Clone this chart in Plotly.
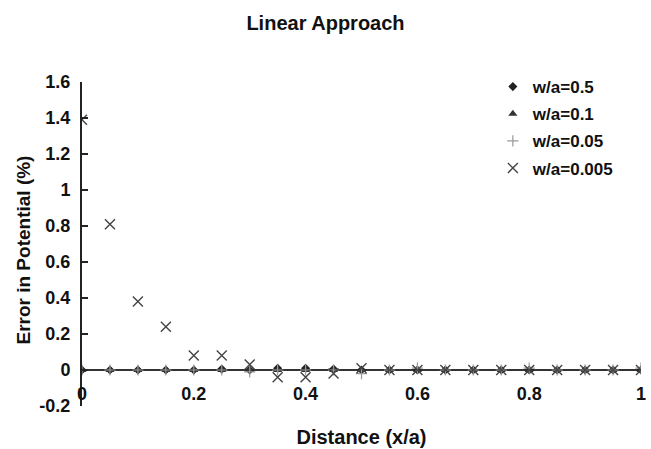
import plotly.graph_objects as go

x_vals = [0, 0.05, 0.1, 0.15, 0.2, 0.25, 0.3, 0.35, 0.4, 0.45, 0.5,
          0.55, 0.6, 0.65, 0.7, 0.75, 0.8, 0.85, 0.9, 0.95, 1.0]
wa_05 = [0, 0, 0, 0, 0, 0.005, 0, 0.01, 0.01, 0.005, 0,
         0, 0, 0, 0, 0, 0, 0, 0, 0, 0]
wa_01 = [0, 0, 0, 0, 0, 0, 0, 0, 0, 0, 0,
         0, 0, 0, 0, 0, 0, 0, 0, 0, 0]
wa_005 = [0, 0, 0, 0, 0, 0, -0.01, 0, 0, 0, -0.02,
          0, 0.01, 0, 0, 0, 0.01, 0, 0, 0, 0.01]
wa_0005 = [1.39, 0.81, 0.38, 0.24, 0.08, 0.08, 0.03, -0.04, -0.04, -0.02, 0.01,
           0, 0, 0, 0, 0, 0, 0, 0, 0, 0]

font = "Liberation Sans, Arial, sans-serif"

fig = go.Figure()
fig.add_trace(go.Scatter(x=x_vals, y=wa_05, mode="markers", name="<b>w/a=0.5</b>",
                         legendgroup="a",
                         marker=dict(symbol="diamond", size=7, color="#222222")))
fig.add_trace(go.Scatter(x=x_vals, y=wa_01, mode="markers", name="<b>w/a=0.1</b>",
                         legendgroup="b",
                         marker=dict(symbol="triangle-up", size=8, color="#333333")))
fig.add_trace(go.Scatter(x=x_vals, y=wa_005, mode="markers", name="<b>w/a=0.05</b>",
                         legendgroup="c",
                         marker=dict(symbol="cross-thin-open", size=8, color="#999999",
                                     line=dict(width=1.2, color="#999999"))))
fig.add_trace(go.Scatter(x=x_vals, y=wa_0005, mode="markers", name="<b>w/a=0.005</b>",
                         legendgroup="d",
                         marker=dict(symbol="x-thin-open", size=10, color="#444444",
                                     line=dict(width=1.4, color="#444444"))))

fig.update_layout(
    width=651, height=449,
    margin=dict(l=82, r=5, t=82, b=43),
    paper_bgcolor="white", plot_bgcolor="white",
    font=dict(family=font, color="#111111"),
    title=dict(text="<b>Linear Approach</b>", x=0.5, xanchor="center",
               y=1 - 23 / 449, yanchor="middle", yref="container",
               font=dict(size=20, family=font, color="#111111")),
    showlegend=True,
    legend=dict(x=0.735, y=1.04, xanchor="left", yanchor="top",
                bgcolor="rgba(0,0,0,0)", itemwidth=30,
                tracegroupgap=2,
                font=dict(size=17, family=font, color="#111111")),
    xaxis=dict(range=[0, 1], tickvals=[0, 0.2, 0.4, 0.6, 0.8, 1],
               ticktext=["<b>0</b>", "<b>0.2</b>", "<b>0.4</b>", "<b>0.6</b>", "<b>0.8</b>", "<b>1</b>"],
               showline=False, showgrid=False, zeroline=False, ticks="",
               anchor="free", position=0.077, ticklabeloverflow="allow",
               tickfont=dict(size=18, family=font, color="#111111"),
               title=dict(text="<b>Distance (x/a)</b>", standoff=26,
                          font=dict(size=20, family=font, color="#111111"))),
    yaxis=dict(range=[-0.2, 1.6], tickvals=[-0.2, 0, 0.2, 0.4, 0.6, 0.8, 1, 1.2, 1.4, 1.6],
               ticktext=["<b>-0.2</b>", "<b>0</b>", "<b>0.2</b>", "<b>0.4</b>", "<b>0.6</b>",
                         "<b>0.8</b>", "<b>1</b>", "<b>1.2</b>", "<b>1.4</b>", "<b>1.6</b>"],
               showline=True, linecolor="#222222", linewidth=2,
               ticks="inside", ticklen=6, tickwidth=2, tickcolor="#222222",
               ticklabelstandoff=6,
               showgrid=False, zeroline=True, zerolinecolor="#333333", zerolinewidth=2,
               tickfont=dict(size=18, family=font, color="#111111")),
    annotations=[dict(text="<b>Error in Potential (%)</b>", textangle=-90,
                      xref="paper", yref="paper",
                      x=(22 - 82) / 564, y=(406 - 250) / 324,
                      xanchor="center", yanchor="middle", showarrow=False,
                      font=dict(size=19, family=font, color="#111111"))],
)

fig.write_html("out.html")
